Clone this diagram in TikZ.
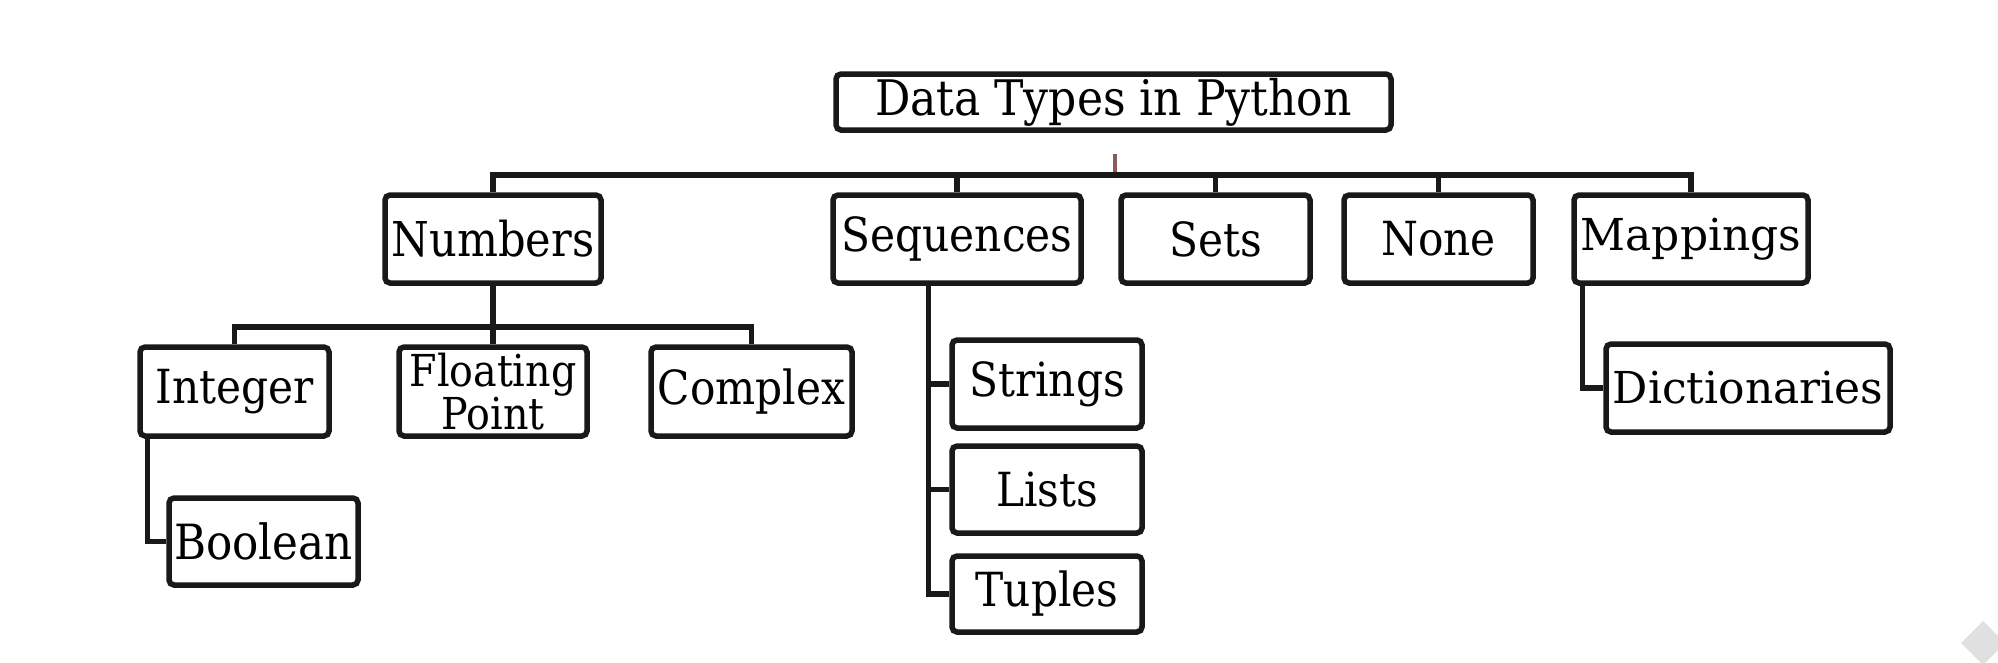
\documentclass[tikz,border=0pt]{standalone}
\usepackage{fontspec}
\setmainfont{DejaVu Serif Condensed}
\newfontfamily\widefont{DejaVu Serif}
\begin{document}
\begin{tikzpicture}[x=1pt,y=-1pt,
  box/.style={draw=black!90, line width=5.5pt, rounded corners=5pt, fill=white,
    inner sep=0pt, font=\fontsize{47}{40}\selectfont},
  link/.style={draw=black!90, line width=5.5pt}
]
\fill[white] (0,0) rectangle (1998,662);
\useasboundingbox (0,0) rectangle (1998,662);
% watermark
\fill[black!12] (1983,621) -- (2005,643) -- (1983,665) -- (1961,643) -- cycle;

\node[box, minimum width=555pt, minimum height=56pt, font=\fontsize{49}{40}\selectfont] (title) at (1113.5,102) {Data Types in Python};

\node[box, minimum width=216pt, minimum height=88pt, font=\fontsize{48}{40}\selectfont] (numbers) at (493,239) {Numbers};
\node[box, minimum width=248pt, minimum height=88pt] (sequences) at (957,239) {\raisebox{4pt}{Sequences}};
\node[box, minimum width=189pt, minimum height=88pt] (sets) at (1215.5,239) {Sets};
\node[box, minimum width=189pt, minimum height=88pt] (none) at (1438.5,239) {None};
\node[box, minimum width=234pt, minimum height=88pt, font=\widefont\fontsize{44}{40}\selectfont] (mappings) at (1691,239) {\raisebox{4pt}{Mappings}};

\node[box, minimum width=189pt, minimum height=89pt] (integer) at (234.5,391.5) {Integer};
\node[box, minimum width=188pt, minimum height=89pt, align=center, font=\fontsize{44}{37}\selectfont] (floating) at (493,391.5) {Floating\\Point};
\node[box, minimum width=201pt, minimum height=89pt] (complex) at (751.5,391.5) {Complex};
\node[box, minimum width=189pt, minimum height=87pt, font=\fontsize{48.5}{40}\selectfont] (boolean) at (263.5,541.5) {Boolean};

\node[box, minimum width=190pt, minimum height=88pt] (strings) at (1047,384) {Strings};
\node[box, minimum width=190pt, minimum height=87pt] (lists) at (1047,489.5) {Lists};
\node[box, minimum width=190pt, minimum height=76pt] (tuples) at (1047,594) {Tuples};

\node[box, minimum width=284pt, minimum height=88pt, font=\widefont\fontsize{44}{40}\selectfont] (dict) at (1748,388) {Dictionaries};

% top bus
\coordinate (bus) at (0,175);
\draw[link] (numbers.north) -- (numbers.north |- bus) -- (mappings.north |- bus) -- (mappings.north);
\draw[link] (sequences.north) -- (sequences.north |- bus);
\draw[link] (sets.north) -- (sets.north |- bus);
\draw[link] (none.north) -- (none.north |- bus);
\coordinate (t1) at (1115,154);
\coordinate (t2) at (1115,172);
\draw[line width=4pt, draw={rgb,255:red,140;green,90;blue,90}] (t1) -- (t2);

% numbers subtree
\coordinate (nbus) at (0,327);
\draw[link] (numbers.south) -- (floating.north);
\draw[link] (integer.north) -- (integer.north |- nbus) -- (complex.north |- nbus) -- (complex.north);
\draw[link] ([xshift=10pt]integer.south west) |- (boolean.west);

% sequences subtree
\draw[link] ([xshift=98pt]sequences.south west) |- (tuples.west);
\draw[link] ([xshift=98pt]sequences.south west |- strings.west) -- (strings.west);
\draw[link] ([xshift=98pt]sequences.south west |- lists.west) -- (lists.west);

% mappings subtree
\draw[link] ([xshift=11pt]mappings.south west) |- (dict.west);
\end{tikzpicture}
\end{document}
